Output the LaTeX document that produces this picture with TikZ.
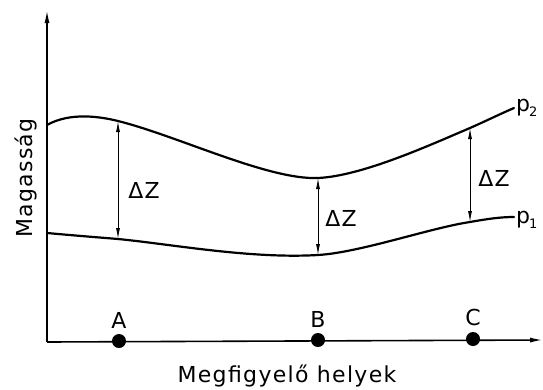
\documentclass[tikz,border=0pt]{standalone}
\usepackage{fontspec}
\setmainfont[LetterSpace=6]{DejaVu Sans}
\usetikzlibrary{arrows.meta}

\begin{document}
\begin{tikzpicture}[
  x=1pt, y=-1pt,
  font=\fontsize{22}{26}\selectfont,
  axis/.style={line width=1.6pt, -{Latex[length=13pt, width=5pt]}},
  curve/.style={line width=2.2pt, line cap=round},
  dz/.style={line width=0.9pt, {Latex[length=11pt, width=4pt]}-{Latex[length=11pt, width=4pt]}},
  site/.style={circle, fill=black, inner sep=0pt, minimum size=14pt},
]
  \useasboundingbox (0,0) rectangle (543,389);

  % ── Axes ──
  \coordinate (O) at (47,342);
  \coordinate (ytop) at (47,10);
  \coordinate (xend) at (543,340);
  \draw[axis] (O) -- (ytop);
  \draw[axis] (O) -- (xend);
  \node[rotate=90] (ylab) at (26,178) {Magasság};
  \node (xlab) at (287,376) {Megfigyelő helyek};

  % ── Observation sites ──
  \node[site] (A) at (119,341) {};
  \node[site] (B) at (318,340) {};
  \node[site] (C) at (473,339) {};
  \node[above=2pt] (Alab) at (A.north) {A};
  \node[above=2pt] (Blab) at (B.north) {B};
  \node[above=2pt] (Clab) at (C.north) {C};

  % ── Upper surface p2 ──
  \coordinate (uA) at (118,121);
  \coordinate (uB) at (318,178);
  \coordinate (uC) at (470,128);
  \coordinate (uend) at (514,108);
  \draw[curve] (47,125) .. controls (70,112) and (100,116.5) .. (uA)
    .. controls (178,136) and (268,180) .. (uB)
    .. controls (362,176) and (430,145) .. (uC)
    .. controls (487,120.5) and (500,114) .. (uend);
  \node[anchor=west, inner sep=0pt] (p2) at ([xshift=2pt]uend)
    {p\kern-1pt\raisebox{-5pt}{\fontsize{13}{13}\selectfont 2}};

  % ── Lower surface p1 ──
  \coordinate (lA) at (118,239);
  \coordinate (lB) at (318,255);
  \coordinate (lC) at (470,222);
  \coordinate (lend) at (514,217);
  \draw[curve] (47,233) .. controls (80,236) and (100,237.5) .. (lA)
    .. controls (170,244) and (250,259) .. (lB)
    .. controls (360,252.5) and (430,228) .. (lC)
    .. controls (487,219) and (500,217) .. (lend);
  \node[anchor=west, inner sep=0pt] (p1) at ([xshift=2pt,yshift=-3pt]lend)
    {p\kern-1pt\raisebox{-5pt}{\fontsize{13}{13}\selectfont 1}};

  % ── Thickness arrows ──
  \draw[dz] (uA) -- (lA);
  \draw[dz] (uB) -- (lB);
  \draw[dz] (uC) -- (lC);
  \node (dzA) at (144,190) {ΔZ};
  \node (dzB) at (341,218) {ΔZ};
  \node (dzC) at (494,178) {ΔZ};

\end{tikzpicture}
\end{document}
